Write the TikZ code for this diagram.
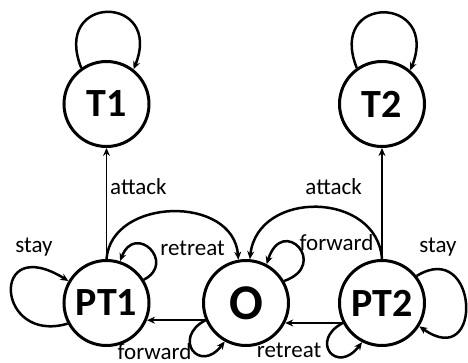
\documentclass[tikz,border=0pt]{standalone}
\usepackage{fontspec}
\setmainfont{Carlito}
\usetikzlibrary{arrows.meta}
\begin{document}
\begin{tikzpicture}[x=1pt,y=-1pt,
  state/.style={circle,draw,line width=3pt,minimum size=85pt,inner sep=0pt,
    font=\fontsize{40}{40}\selectfont\bfseries},
  bigstate/.style={state,font=\fontsize{50}{50}\selectfont\bfseries},
  lbl/.style={inner sep=0pt,font=\fontsize{23}{23}\selectfont},
  tip/.style={-{Stealth[length=8pt,width=7pt]}},
  thin edge/.style={tip,line width=1.5pt},
  thick edge/.style={tip,line width=2.5pt}]
\useasboundingbox (0,0) rectangle (468,363);
% states
\node[state] (T1) at (106.5,104) {T1};
\node[state] (T2) at (382,104) {T2};
\node[state] (PT1) at (106.5,303) {PT1};
\node[bigstate] (O) at (246,303) {O};
\node[state] (PT2) at (382,303) {PT2};
% self loops of T1, T2
\draw[thick edge] (T1.125) .. controls +(-30,-75) and +(30,-75) .. (T1.52);
\draw[thick edge] (T2.125) .. controls +(-30,-75) and +(30,-75) .. (T2.50);
% attack edges
\draw[thin edge] (PT1.north) -- (T1.south);
\draw[thin edge] (PT2.north) -- (T2.south);
% arcs to O
\draw[thick edge] (PT1.north) .. controls +(5,-62) and +(-5,-65) .. (O.100);
\draw[thick edge] (PT2.north) .. controls +(-5,-68) and +(8,-70) .. (O.85);
% PT1 loops
\draw[thick edge] (PT1.32) .. controls +(33,-17) and +(15,-39) .. (PT1.72);
\draw[thick edge] (PT1.208) .. controls +(-72,21) and +(-79,-49) .. (PT1.150);
% O loops
\draw[thick edge] (O.203) .. controls +(-34,18) and +(-25,33) .. (O.241);
\draw[thick edge] (O.30) .. controls +(46,-16) and +(16,-50) .. (O.62);
% PT2 loops
\draw[thick edge] (PT2.207) .. controls +(-34,18) and +(-25,33) .. (PT2.243);
\draw[thick edge] (PT2.38) .. controls +(62,-38) and +(65,46) .. (PT2.-32);
% horizontal edges
\draw[thick edge] (O.203) -- (PT1.-23);
\draw[thick edge] (PT2.207) -- (O.-27);
% labels
\node[lbl,anchor=base west] (la1) at (110,195) {attack};
\node[lbl,anchor=base east] (la2) at (362,195) {attack};
\node[lbl,anchor=base] (ls1) at (34,252) {stay};
\node[lbl,anchor=base] (ls2) at (438,252) {stay};
\node[lbl,anchor=base] (lr1) at (192.5,255) {retreat};
\node[lbl,anchor=base] (lr2) at (289,357.5) {retreat};
\node[lbl,anchor=base] (lf1) at (336.5,251) {forward};
\node[lbl,anchor=base] (lf2) at (154.5,359) {forward};
\end{tikzpicture}
\end{document}
